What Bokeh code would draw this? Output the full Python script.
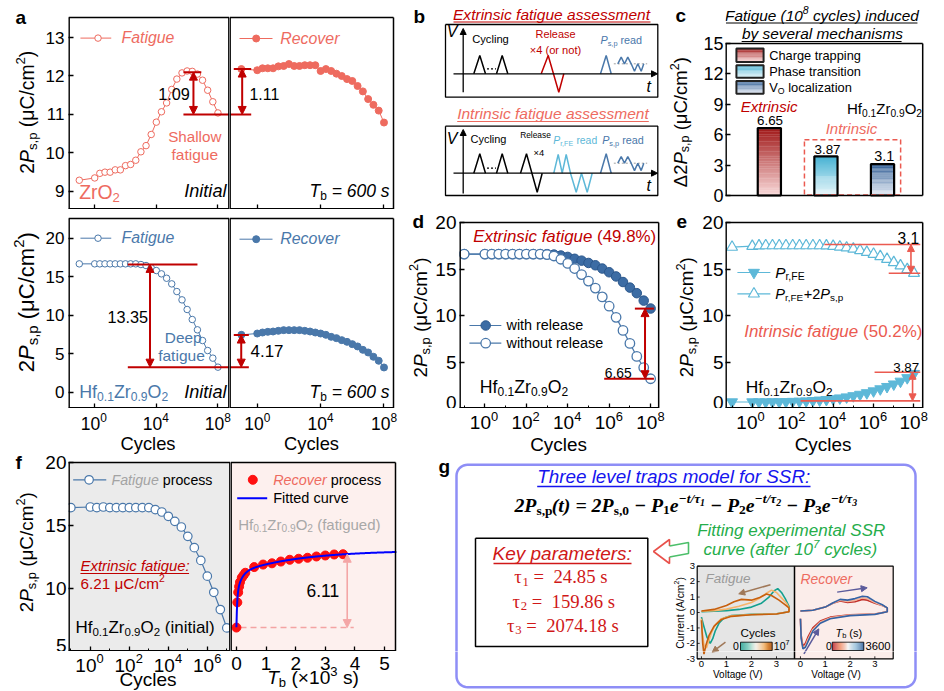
import math
import numpy as np
from bokeh.plotting import figure
from bokeh.layouts import row, column
from bokeh.models import Range1d, Label, Arrow, NormalHead, FixedTicker, CustomJSTickFormatter
from bokeh.embed import file_html
from bokeh.resources import INLINE

# ============================ DATA ============================
cycle_exponent = [-1, 0, 0.333, 0.667, 1, 1.333, 1.667, 2, 2.333, 2.667, 3, 3.333, 3.667,
                  4, 4.333, 4.667, 5, 5.333, 5.667, 6, 6.333, 6.667, 7, 7.333, 7.667, 8]
cycles = [10 ** e for e in cycle_exponent]
zro2_fatigue = [9.29, 9.35, 9.47, 9.50, 9.50, 9.56, 9.56, 9.67, 9.70, 9.81, 10.03, 10.19, 10.48,
                10.80, 11.07, 11.30, 11.65, 11.92, 12.08, 12.13, 12.12, 12.05, 11.89, 11.63, 11.33, 11.04]
zro2_recover = [12.18, 12.15, 12.20, 12.20, 12.20, 12.25, 12.26, 12.31, 12.26, 12.26, 12.28, 12.28, 12.28,
                12.13, 12.18, 12.13, 12.06, 12.00, 11.92, 11.87, 11.74, 11.60, 11.40, 11.25, 11.10, 10.79]
hzo_fatigue = [16.67, 16.67, 16.67, 16.67, 16.67, 16.67, 16.67, 16.67, 16.67, 16.67, 16.58, 16.45, 16.15,
               15.80, 15.37, 14.80, 14.07, 13.07, 11.99, 10.74, 9.44, 8.10, 6.71, 5.41, 4.42, 3.25]
hzo_recover = [7.45, 7.62, 7.75, 7.84, 7.88, 7.97, 8.06, 8.06, 8.06, 8.06, 7.97, 7.88, 7.75,
               7.62, 7.45, 7.19, 7.02, 6.76, 6.54, 6.24, 5.94, 5.50, 5.16, 4.60, 4.08, 3.21]
d_with_release = [16.6, 16.6, 16.6, 16.6, 16.6, 16.6, 16.6, 16.6, 16.6, 16.6, 16.6, 16.55, 16.45,
                  16.3, 16.1, 15.9, 15.65, 15.4, 15.05, 14.65, 14.2, 13.6, 13.0, 12.4, 11.6, 10.75]
d_without_release = [16.6, 16.6, 16.6, 16.6, 16.6, 16.6, 16.6, 16.6, 16.6, 16.6, 16.55, 16.4, 16.05,
                     15.6, 15.05, 14.4, 13.7, 12.95, 12.0, 11.0, 9.8, 8.4, 7.0, 5.6, 4.4, 3.2]
e_pr_fe = [0.7, 0.7, 0.7, 0.7, 0.71, 0.72, 0.73, 0.75, 0.77, 0.8, 0.84, 0.89, 0.95,
           1.03, 1.12, 1.23, 1.36, 1.51, 1.68, 1.88, 2.1, 2.35, 2.62, 2.92, 3.3, 3.75]
e_pr_fe_2ps = [17.36, 17.45, 17.5, 17.52, 17.52, 17.52, 17.52, 17.52, 17.52, 17.52, 17.52, 17.52, 17.5,
               17.45, 17.38, 17.28, 17.15, 17.0, 16.8, 16.6, 16.35, 16.05, 15.7, 15.35, 14.95, 14.55]
f_exponent = [-1, 0, 0.333, 0.667, 1, 1.333, 1.667, 2, 2.333, 2.667, 3, 3.333, 3.667,
              4, 4.333, 4.667, 5, 5.333, 5.667, 6, 6.333, 6.667, 7]
f_cycles = [10 ** e for e in f_exponent]
f_fatigue = [16.42, 16.47, 16.42, 16.47, 16.42, 16.42, 16.42, 16.42, 16.42, 16.42, 16.42, 16.26,
             16.07, 15.73, 15.33, 14.88, 14.14, 13.24, 12.23, 10.98, 9.70, 8.33, 6.87]
f_tb_ks = [0, 0.03, 0.06, 0.09, 0.12, 0.18, 0.24, 0.3, 0.6, 0.9, 1.2, 1.5, 1.8, 2.1, 2.4, 2.7, 3.0, 3.3, 3.6]
f_recover = [6.9, 8.9, 9.7, 10.15, 10.5, 10.85, 11.05, 11.25, 11.7, 11.9, 12.0, 12.14, 12.28,
             12.36, 12.44, 12.54, 12.62, 12.7, 12.72]
tau_s = [24.85, 159.86, 2074.18]
fit_2ps0 = 13.03
fit_p = [2.53, 1.78, 1.8]
c_mechanisms = ["Charge trapping", "Phase transition", "VO localization"]
c_delta = [6.65, 3.87, 3.1]
fat_loops_V = [
    [0.0, 0.5, 1.0, 1.5, 2.0, 2.4, 2.7, 2.9, 3.05, 3.2, 3.35, 3.5, 3.5, 3.0, 2.0, 1.2, 0.9, 0.7, 0.55, 0.45, 0.35, 0.22, 0.08, 0.0],
    [0.0, 0.5, 1.0, 1.5, 2.0, 2.3, 2.6, 2.8, 3.0, 3.2, 3.4, 3.5, 3.5, 3.0, 2.0, 1.2, 0.8, 0.55, 0.4, 0.3, 0.2, 0.1, 0.03, 0.0],
    [0.0, 0.5, 1.0, 1.3, 1.6, 2.0, 2.3, 2.6, 2.8, 3.1, 3.35, 3.5, 3.5, 3.0, 2.0, 1.2, 0.8, 0.5, 0.3, 0.18, 0.1, 0.05, 0.0],
]
fat_loops_I = [
    [0.05, 0.08, 0.12, 0.2, 0.35, 0.6, 1.0, 1.4, 1.55, 1.3, 0.9, 0.4, 0.05, -0.08, -0.12, -0.2, -0.35, -0.7, -1.2, -1.7, -2.0, -1.6, -0.8, -0.3],
    [0.08, 0.12, 0.22, 0.4, 0.65, 0.9, 1.25, 1.45, 1.3, 0.95, 0.6, 0.3, 0.05, -0.08, -0.13, -0.22, -0.4, -0.8, -1.3, -1.8, -2.3, -2.1, -1.2, -0.4],
    [0.1, 0.2, 0.45, 0.7, 0.85, 0.8, 0.95, 1.2, 1.1, 0.8, 0.5, 0.3, 0.05, -0.1, -0.15, -0.25, -0.45, -0.9, -1.5, -2.1, -2.7, -2.0, -0.5],
]
rec_loop_V = [0.0, 0.5, 1.0, 1.3, 1.6, 1.9, 2.2, 2.5, 2.7, 3.0, 3.3, 3.5, 3.5, 3.0, 2.0, 1.2, 0.8, 0.5, 0.3, 0.2, 0.1, 0.03, 0.0]
rec_loops_I = [
    [0.1, 0.15, 0.35, 0.6, 0.75, 0.65, 0.7, 0.85, 0.8, 0.6, 0.45, 0.3, 0.05, -0.1, -0.15, -0.3, -0.55, -1.0, -1.6, -2.0, -2.2, -1.5, -0.4],
    [0.1, 0.15, 0.35, 0.6, 0.8, 0.72, 0.8, 0.95, 0.9, 0.65, 0.45, 0.3, 0.05, -0.1, -0.17, -0.35, -0.62, -1.1, -1.75, -2.15, -2.3, -1.6, -0.4],
    [0.1, 0.15, 0.35, 0.62, 0.85, 0.8, 0.9, 1.05, 1.02, 0.72, 0.5, 0.3, 0.05, -0.12, -0.2, -0.4, -0.7, -1.2, -1.9, -2.25, -2.35, -1.7, -0.4],
]

# ============================ STYLE / HELPERS ============================
SANS = "Liberation Sans"
SERIF = "Liberation Serif"
SALMON = "#EE6B5F"
HZO = "#4A78AA"
DRED = "#C00000"
LBLUE = "#5DB8D8"
ESAL = "#EB5A50"
PI2 = math.pi / 2
NBSP = "\u00a0"

AR_W = {' ': 278, '!': 278, '%': 889, '(': 333, ')': 333, '+': 584, ',': 278, '-': 333, '.': 278, '/': 278,
        ':': 278, '=': 584, '_': 556, 'A': 667, 'B': 667, 'C': 722, 'D': 722, 'E': 667, 'F': 611, 'G': 778,
        'H': 722, 'I': 278, 'J': 500, 'K': 667, 'L': 556, 'M': 833, 'N': 722, 'O': 778, 'P': 667, 'Q': 778,
        'R': 722, 'S': 667, 'T': 611, 'U': 722, 'V': 667, 'W': 944, 'X': 667, 'Y': 667, 'Z': 611,
        'a': 556, 'b': 556, 'c': 500, 'd': 556, 'e': 556, 'f': 278, 'g': 556, 'h': 556, 'i': 222, 'j': 222,
        'k': 500, 'l': 222, 'm': 833, 'n': 556, 'o': 556, 'p': 556, 'q': 556, 'r': 333, 's': 500, 't': 278,
        'u': 556, 'v': 500, 'w': 722, 'x': 500, 'y': 500, 'z': 500, 'μ': 576, '×': 584, 'Δ': 668, '−': 584,
        'τ': 440}
SE_W = {' ': 250, '(': 333, ')': 333, ',': 250, '.': 250, '/': 278, '=': 570, '−': 606, 'P': 611, 'e': 444,
        'p': 500, 's': 389, 't': 278, 'τ': 440}


def tw(s, fs, serif=False):
    tab = SE_W if serif else AR_W
    d = 500 if serif else 556
    return sum(tab.get(c, d) for c in s) * fs / 1000.0


class Spec:
    def __init__(s, fx0, fx1, fy0, fy1, x0, x1, y0, y1, xlog=False):
        s.fx0, s.fx1, s.fy0, s.fy1 = fx0, fx1, fy0, fy1
        s.x0, s.x1, s.y0, s.y1, s.xlog = x0, x1, y0, y1, xlog

    def px_x(s, v):
        t = math.log10(v) if s.xlog else v
        return s.fx0 + (t - s.x0) / (s.x1 - s.x0) * (s.fx1 - s.fx0)

    def dx(s, X):
        t = s.x0 + (X - s.fx0) / (s.fx1 - s.fx0) * (s.x1 - s.x0)
        return 10 ** t if s.xlog else t

    def dy(s, Y):
        return s.y0 + (s.fy1 - Y) / (s.fy1 - s.fy0) * (s.y1 - s.y0)


def rich(p, sp, X, Y, parts, size=15.0, color="black", align="center", angle=0.0,
         font=SANS, serif=False, style="normal", width=None):
    """Text made of pieces (normal / italic / bold / sub / sup); X, Y = page px of the centre line."""
    norm = []
    for part in parts:
        if isinstance(part, str):
            part = (part, "")
        norm.append((part[0], part[1] if len(part) > 1 else "", part[2] if len(part) > 2 else color))

    def lay(sz):
        out, adv = [], 0.0
        for txt, mods, col in norm:
            if "^" in mods and "_" in mods:
                fs, sh = 0.5 * sz, 0.12 * sz
            elif "^" in mods:
                fs, sh = 0.68 * sz, 0.33 * sz
            elif "_" in mods:
                fs, sh = 0.68 * sz, -0.27 * sz
            else:
                fs, sh = sz, 0.0
            if any(m in mods for m in "ibn"):
                st = " ".join((["bold"] if "b" in mods else []) + (["italic"] if "i" in mods else [])) or "normal"
            else:
                st = style
            out.append((txt, fs, sh, st, col, adv))
            adv += tw(txt, fs, serif)
        return out, adv

    pieces, W = lay(size)
    if width:
        size = size * width / W
        pieces, W = lay(size)
    start = {"left": 0.0, "center": -W / 2.0, "right": -W}[align]
    ca, sa = math.cos(angle), math.sin(angle)
    sx0, sy0 = X - sp.fx0, sp.fy1 - Y
    for txt, fs, sh, st, col, a in pieces:
        al = start + a
        up = sh + 0.02 * size
        p.add_layout(Label(x=sx0 + al * ca - up * sa, y=sy0 + al * sa + up * ca,
                           x_units="screen", y_units="screen", text=txt.replace(" ", NBSP), angle=angle,
                           text_align="left", text_baseline="alphabetic", text_font=font,
                           text_font_size="%.2fpx" % fs, text_font_style=st, text_color=col))


def make_panel(box, vis, xv, yv, xlog=False, xaxis=True, yaxis=True):
    gx0, gx1, gy0, gy1 = box
    vx0, vx1, vy0, vy1 = vis
    fx0 = vx0 if yaxis else gx0
    fy1 = vy1 if xaxis else gy1

    def xat(X):
        return xv[0] + (X - vx0) / (vx1 - vx0) * (xv[1] - xv[0])

    def yat(Y):
        return yv[0] + (vy1 - Y) / (vy1 - vy0) * (yv[1] - yv[0])

    sp = Spec(fx0, gx1, gy0, fy1, xat(fx0), xat(gx1), yat(fy1), yat(gy0), xlog)
    xr = Range1d(10 ** sp.x0, 10 ** sp.x1) if xlog else Range1d(sp.x0, sp.x1)
    p = figure(width=gx1 - gx0, height=gy1 - gy0, x_range=xr, y_range=Range1d(sp.y0, sp.y1),
               x_axis_type="log" if xlog else "linear",
               x_axis_location="below" if xaxis else None,
               y_axis_location="left" if yaxis else None,
               toolbar_location=None, output_backend="svg",
               min_border_left=fx0 - gx0, min_border_right=0, min_border_top=0, min_border_bottom=gy1 - fy1,
               outline_line_color=None, background_fill_color="white", border_fill_color="white")
    p.grid.visible = False
    vb = ((10 ** xv[0], 10 ** xv[1]) if xlog else (xv[0], xv[1])) + (yv[0], yv[1])
    return p, sp, vb


def canvas(box):
    gx0, gx1, gy0, gy1 = box
    p = figure(width=gx1 - gx0, height=gy1 - gy0, x_range=Range1d(gx0, gx1), y_range=Range1d(gy1, gy0),
               x_axis_location=None, y_axis_location=None, toolbar_location=None, output_backend="svg",
               min_border_left=0, min_border_right=0, min_border_top=0, min_border_bottom=0,
               outline_line_color=None, background_fill_color="white", border_fill_color="white")
    p.grid.visible = False
    return p, Spec(gx0, gx1, gy0, gy1, gx0, gx1, gy1, gy0)


def vbg(p, vb, color):
    xa, xb, ya, yb = vb
    p.quad(left=xa, right=xb, bottom=ya, top=yb, fill_color=color, line_color=None)


def vbox(p, sp, vis, vb):
    xa, xb, ya, yb = vb
    vx0, vx1, vy0, vy1 = vis
    edges = [([xa, xa], [ya, yb], vx0 == sp.fx0), ([xb, xb], [ya, yb], vx1 == sp.fx1),
             ([xa, xb], [ya, ya], vy1 == sp.fy1), ([xa, xb], [yb, yb], vy0 == sp.fy0)]
    for xs, ys, on_edge in edges:
        p.line(xs, ys, color="black", line_width=2.8 if on_edge else 1.5)


def axis_common(ax):
    ax.axis_line_color = None
    ax.major_tick_in = 5
    ax.major_tick_out = 0
    ax.minor_tick_in = 3
    ax.minor_tick_out = 0
    ax.major_tick_line_width = 1.3
    ax.minor_tick_line_width = 1.0
    ax.major_tick_line_color = "black"
    ax.minor_tick_line_color = "black"


def yaxis_style(p, size, ticks, standoff):
    ax = p.yaxis[0]
    axis_common(ax)
    ax.ticker = FixedTicker(ticks=ticks)
    ax.major_label_text_font = SANS
    ax.major_label_text_font_size = "%dpx" % size
    ax.major_label_text_color = "black"
    ax.major_label_standoff = standoff


def xticks_only(p, ticks, minors):
    ax = p.xaxis[0]
    axis_common(ax)
    ax.ticker = FixedTicker(ticks=ticks, minor_ticks=minors)
    ax.formatter = CustomJSTickFormatter(code="return '';")
    ax.major_label_text_font_size = "0px"
    ax.major_label_standoff = 0


def log_labels(p, sp_canvas, sp_axis, exps, Y, size):
    for e in exps:
        rich(p, sp_canvas, sp_axis.px_x(10 ** e), Y, [("10", ""), (str(e), "^")], size=size)


def seg(p, sp, X0, X1, Y0, Y1, **kw):
    p.line([sp.dx(X0), sp.dx(X1)], [sp.dy(Y0), sp.dy(Y1)], **kw)


def dbl_arrow(p, x, y0, y1, color, lw=2.0, size=8):
    p.add_layout(Arrow(x_start=x, y_start=y0, x_end=x, y_end=y1, line_color=color, line_width=lw,
                       start=NormalHead(size=size, fill_color=color, line_color=color, line_width=1),
                       end=NormalHead(size=size, fill_color=color, line_color=color, line_width=1)))


def hex2rgb(h):
    h = h.lstrip("#")
    return tuple(int(h[i:i + 2], 16) for i in (0, 2, 4))


def mix(c1, c2, t):
    a, b = hex2rgb(c1), hex2rgb(c2)
    return "#%02x%02x%02x" % tuple(int(round(a[k] + (b[k] - a[k]) * t)) for k in range(3))


def ramp(stops, t):
    n = len(stops) - 1
    k = min(int(t * n), n - 1)
    return mix(stops[k], stops[k + 1], t * n - k)


YLAB = [("2", ""), ("P", "i"), ("s,p", "_"), (" (μC/cm", ""), ("2", "^"), (")", "")]
HZO_TXT = [("Hf", ""), ("0.1", "_"), ("Zr", ""), ("0.9", "_"), ("O", ""), ("2", "_")]
SW = 42  # width of the left strips holding the y-axis titles and panel letters

# ============================ BAND 1 ============================
pS1, spS1 = canvas((0, SW, 0, 209))
rich(pS1, spS1, 15, 17, [("a", "b")], size=19, align="left")
rich(pS1, spS1, 27, 111.7, YLAB, angle=PI2, width=123)

visA1 = (67, 229, 17, 209)
pA1, spA1, vbA1 = make_panel((SW, 229, 0, 209), visA1, (-1.7, 8.75), (8.53, 13.52), xlog=True)
yaxis_style(pA1, 17, [9, 10, 11, 12, 13], 4)
xticks_only(pA1, [1, 1e4, 1e8], [])
pA1.line(cycles, zro2_fatigue, color=SALMON, line_width=1)
pA1.scatter(cycles, zro2_fatigue, marker="circle", size=6.5, fill_color="white", line_color=SALMON, line_width=1)
seg(pA1, spA1, 79, 110, 37.6, 37.6, color=SALMON, line_width=1)
pA1.scatter([spA1.dx(96.7)], [spA1.dy(37.6)], marker="circle", size=6.5, fill_color="white", line_color=SALMON)
rich(pA1, spA1, 120, 37.6, [("Fatigue", "i")], color=SALMON, align="left", width=53)
pA1.line([10 ** 5.76, 10 ** 6.92], [12.1, 12.1], color=DRED, line_width=2)
pA1.line([10 ** 5.76, 10 ** 8.75], [11.0, 11.0], color=DRED, line_width=2)
dbl_arrow(pA1, 10 ** 6.41, 12.1, 11.0, DRED)
rich(pA1, spA1, 172.5, 94.3, ["1.09"], width=31.7)
rich(pA1, spA1, 193.3, 136, ["Shallow"], color=SALMON, width=53.3)
rich(pA1, spA1, 193.3, 154, ["fatigue"], color=SALMON, width=46.7)
rich(pA1, spA1, 77.7, 191.7, [("ZrO", ""), ("2", "_")], color=SALMON, align="left", width=40.7)
rich(pA1, spA1, 225, 191, [("Initial", "i")], align="right", width=42.3)
vbox(pA1, spA1, visA1, vbA1)

visA2 = (229, 393, 17, 209)
pA2, spA2, vbA2 = make_panel((229, 405, 0, 209), visA2, (-1.75, 8.6), (8.53, 13.52), xlog=True, yaxis=False)
xticks_only(pA2, [1, 1e4, 1e8], [])
pA2.line(cycles, zro2_recover, color=SALMON, line_width=1)
pA2.scatter(cycles, zro2_recover, marker="circle", size=7, fill_color=SALMON, line_color=SALMON)
seg(pA2, spA2, 239, 272, 38, 38, color=SALMON, line_width=1)
pA2.scatter([spA2.dx(255.7)], [spA2.dy(38)], marker="circle", size=7, fill_color=SALMON, line_color=SALMON)
rich(pA2, spA2, 279.7, 38, [("Recover", "i")], color=SALMON, align="left", width=59.3)
pA2.line([10 ** -1.75, 10 ** -0.38], [11.0, 11.0], color=DRED, line_width=2)
pA2.line([10 ** -1.48, 10 ** -0.38], [12.18, 12.18], color=DRED, line_width=2)
dbl_arrow(pA2, 10 ** -0.95, 11.0, 12.18, DRED)
rich(pA2, spA2, 249, 94.3, ["1.11"], align="left", width=31)
rich(pA2, spA2, 389, 191, [("T", "i"), ("b", "_"), (" = 600 s", "i")], align="right", width=80)
vbox(pA2, spA2, visA2, vbA2)

# ---- b ----
pB, spB = canvas((405, 700, 0, 209))
b_box1 = ([445, 657.3, 657.3, 445, 445], [24, 24, 96.7, 96.7, 24])
b_box2 = ([445, 657.3, 657.3, 445, 445], [125.7, 125.7, 195, 195, 125.7])
b_cycle1_x = [473.3, 479.3, 485.0]
b_cycle2_x = [496.0, 501.7, 507.3]
b_release_x = [540.7, 547.7, 558.3, 563.3]
b_release2_x = [520.0, 526.0, 536.7, 541.7]
b_read_tri_x = [600.0, 605.7, 610.7]
b_mw_x = [617.3, 620.7, 624.0, 627.3, 630.7, 634.0, 637.3, 640.7, 643.3]
b_mw_dy = [0, -6.6, 0, -6.6, 0, 7.4, 0, 7.4, 0]
b_prfe_x = [553.3, 557.7, 561.7, 565.7, 570.0, 575.7, 581.0, 586.7, 591.7]
b_prfe_dy = [0, -18.7, 0, -18.7, 0, 19, 0, 19, 0]
for bx, by in (b_box1, b_box2):
    pB.line(bx, by, color="black", line_width=1.3)
for base, top, bottom, pk in ((73.3, 28.0, 91.7, 55.0), (172.7, 129.0, 193.0, 153.3)):
    pB.add_layout(Arrow(x_start=462.7, y_start=bottom, x_end=462.7, y_end=top, line_width=1.3,
                        end=NormalHead(size=6, fill_color="black", line_color="black")))
    pB.add_layout(Arrow(x_start=453, y_start=base, x_end=657, y_end=base, line_width=1.3,
                        end=NormalHead(size=6, fill_color="black", line_color="black")))
    pB.line(b_cycle1_x, [base, pk, base], color="black", line_width=1.5)
    pB.line(b_cycle2_x, [base, pk, base], color="black", line_width=1.5)
    pB.line([486.5, 495.5], [base - 5, base - 5], color="black", line_width=1.2, line_dash="2 2")
    pB.line(b_read_tri_x, [base, pk, base], color=HZO, line_width=1.5)
    mwb = base - 10
    pB.line([613.3, 646.7], [mwb, mwb], color="#888888", line_width=0.8, line_dash="2 2")
    pB.line(b_mw_x, [mwb + d for d in b_mw_dy], color=HZO, line_width=1.5)
pB.line(b_release_x, [73.3, 55, 91.7, 73.3], color=DRED, line_width=1.5)
pB.line(b_release2_x, [172.7, 153.3, 191.7, 172.7], color="black", line_width=1.5)
pB.line(b_prfe_x, [172.7 + d for d in b_prfe_dy], color=LBLUE, line_width=1.5)
rich(pB, spB, 551, 14, [("Extrinsic fatigue assessment", "i")], color=DRED, width=197)
seg(pB, spB, 453, 650, 21.5, 21.5, color=DRED, line_width=1)
rich(pB, spB, 552.5, 113.3, [("Intrinsic fatigue assessment", "i")], color=SALMON, width=191.7)
seg(pB, spB, 456.7, 648.3, 121, 121, color=SALMON, line_width=1)
for vy, ty in ((31.7, 86.7), (138.3, 185)):
    rich(pB, spB, 451.7, vy, [("V", "i")], size=16)
    rich(pB, spB, 648.3, ty, [("t", "i")], size=16)
rich(pB, spB, 490, 38.3, ["Cycling"], width=36.7)
rich(pB, spB, 555, 33.3, ["Release"], color=DRED, width=40)
rich(pB, spB, 555, 50, ["×4 (or not)"], color=DRED, width=51.7)
rich(pB, spB, 620.8, 40, [("P", "i"), ("s,p", "_"), (" read", "")], color=HZO, width=41.7)
rich(pB, spB, 488, 138.3, ["Cycling"], width=36)
rich(pB, spB, 535, 135, ["Release"], width=30.7)
rich(pB, spB, 538.3, 151.7, ["×4"], width=10.7)
rich(pB, spB, 574.7, 140, [("P", "i"), ("r,FE", "_"), (" read", "")], color=LBLUE, width=44)
rich(pB, spB, 622.5, 140, [("P", "i"), ("s,p", "_"), (" read", "")], color=HZO, width=41.7)
rich(pB, spB, 413, 16, [("b", "b")], size=19, align="left")
rich(pB, spB, 675, 15, [("c", "b")], size=19, align="left")
rich(pB, spB, 680, 121.7, [("Δ2", ""), ("P", "i"), ("s,p", "_"), (" (μC/cm", ""), ("2", "^"), (")", "")],
     angle=PI2, width=130)

# ---- c ----
visC = (723, 922, 43, 195)
pC, spC, vbC = make_panel((700, 944, 0, 209), visC, (0.225, 3.71), (0, 15), xaxis=False)
yaxis_style(pC, 18, [0, 3, 6, 9, 12, 15], 2)
C_TOP = ["#A01818", "#45B2D3", "#2D5B93"]
C_BOT = ["#F9DADA", "#E3F4F9", "#E6ECF5"]
NS = 40
for i, v in enumerate(c_delta):
    xc = i + 1
    bots = [v * k / NS for k in range(NS)]
    tops = [v * (k + 1) / NS + v * 0.004 for k in range(NS)]
    cols = [mix(C_BOT[i], C_TOP[i], (k + 0.5) / NS) for k in range(NS)]
    pC.quad(left=xc - 0.205, right=xc + 0.205, bottom=bots, top=tops, fill_color=cols, line_color=None)
    pC.quad(left=xc - 0.205, right=xc + 0.205, bottom=0, top=v, fill_color=None, line_color="black", line_width=2.2)
leg_y = [(13.18, 14.5), (11.63, 12.85), (10.05, 11.3)]
for i, (y0, y1) in enumerate(leg_y):
    bots = [y0 + (y1 - y0) * k / 16 for k in range(16)]
    tops = [y0 + (y1 - y0) * (k + 1.05) / 16 for k in range(16)]
    cols = [mix(C_BOT[i], C_TOP[i], (k + 0.5) / 16) for k in range(16)]
    pC.quad(left=0.418, right=0.898, bottom=bots, top=tops, fill_color=cols, line_color=None)
    pC.quad(left=0.418, right=0.898, bottom=y0, top=y1, fill_color=None, line_color="#222222", line_width=2)
pC.quad(left=1.62, right=3.32, bottom=0.05, top=5.5, fill_color=None, line_color=ESAL, line_width=1.5,
        line_dash="5 3")
rich(pC, spC, 766.7, 55.7, ["Charge trapping"], align="left", width=91.7)
rich(pC, spC, 766.7, 71.7, ["Phase transition"], align="left", width=91.7)
rich(pC, spC, 766.7, 87.7, [("V", ""), ("O", "_"), (" localization", "")], align="left", width=82.7)
rich(pC, spC, 766.7, 106, [("Extrinsic", "i")], color=DRED, width=56.7)
rich(pC, spC, 767.5, 120.7, ["6.65"], width=26)
rich(pC, spC, 849, 128.3, [("Intrinsic", "i")], color=SALMON, width=51.7)
rich(pC, spC, 825, 149, ["3.87"], width=26)
rich(pC, spC, 881.7, 155.7, ["3.1"], width=20)
rich(pC, spC, 882, 108.3, HZO_TXT, width=75)
rich(pC, spC, 819.5, 15, [("Fatigue (10", "i"), ("8", "i^"), (" cycles) induced", "i")], width=194)
rich(pC, spC, 820, 33, [("by several mechanisms", "i")], width=161)
seg(pC, spC, 723.5, 916.7, 22.5, 22.5, color="black", line_width=1)
seg(pC, spC, 739.3, 900.7, 41, 41, color="black", line_width=1)
vbox(pC, spC, visC, vbC)

# ============================ BAND 2 ============================
pS2, spS2 = canvas((0, SW, 209, 408))
rich(pS2, spS2, 26, 301.7, YLAB, angle=PI2, width=140)

visA3 = (67, 229, 218, 408)
pA3, spA3, vbA3 = make_panel((SW, 229, 209, 408), visA3, (-1.7, 8.75), (-2.12, 22.56), xlog=True)
yaxis_style(pA3, 17, [0, 5, 10, 15, 20], 4)
xticks_only(pA3, [1, 1e4, 1e8], [])
pA3.line(cycles, hzo_fatigue, color=HZO, line_width=1)
pA3.scatter(cycles, hzo_fatigue, marker="circle", size=6.5, fill_color="white", line_color=HZO, line_width=1)
seg(pA3, spA3, 79, 110, 237.7, 237.7, color=HZO, line_width=1)
pA3.scatter([spA3.dx(96.7)], [spA3.dy(237.7)], marker="circle", size=6.5, fill_color="white", line_color=HZO)
rich(pA3, spA3, 120, 237.7, [("Fatigue", "i")], color=HZO, align="left", width=53)
pA3.line([10 ** 2.15, 10 ** 6.67], [16.6, 16.6], color=DRED, line_width=2)
pA3.line([10 ** 2.15, 10 ** 8.75], [3.25, 3.25], color=DRED, line_width=2)
dbl_arrow(pA3, 10 ** 3.59, 16.6, 3.25, DRED)
rich(pA3, spA3, 126.3, 316.7, ["13.35"], width=40.7)
rich(pA3, spA3, 181.7, 337.7, ["Deep"], color=HZO, width=36.7)
rich(pA3, spA3, 180, 355.7, ["fatigue"], color=HZO, width=46.7)
rich(pA3, spA3, 77.7, 391.7, HZO_TXT, color=HZO, align="left", width=89)
rich(pA3, spA3, 225, 391.7, [("Initial", "i")], align="right", width=42.3)
vbox(pA3, spA3, visA3, vbA3)

visA4 = (229, 393, 218, 408)
pA4, spA4, vbA4 = make_panel((229, 432, 209, 408), visA4, (-1.75, 8.6), (-2.12, 22.56), xlog=True, yaxis=False)
xticks_only(pA4, [1, 1e4, 1e8], [])
pA4.line(cycles, hzo_recover, color=HZO, line_width=1)
pA4.scatter(cycles, hzo_recover, marker="circle", size=7, fill_color=HZO, line_color=HZO)
seg(pA4, spA4, 239, 272, 238.7, 238.7, color=HZO, line_width=1)
pA4.scatter([spA4.dx(255.7)], [spA4.dy(238.7)], marker="circle", size=7, fill_color=HZO, line_color=HZO)
rich(pA4, spA4, 279.7, 238.7, [("Recover", "i")], color=HZO, align="left", width=59.3)
pA4.line([10 ** -1.75, 10 ** -0.53], [3.25, 3.25], color=DRED, line_width=2)
pA4.line([10 ** -1.48, 10 ** -0.53], [7.42, 7.42], color=DRED, line_width=2)
dbl_arrow(pA4, 10 ** -1.01, 3.25, 7.42, DRED)
rich(pA4, spA4, 250, 350.7, ["4.17"], align="left", width=33)
rich(pA4, spA4, 389, 391.7, [("T", "i"), ("b", "_"), (" = 600 s", "i")], align="right", width=80)
rich(pA4, spA4, 412, 221.7, [("d", "b")], size=19, align="left")
rich(pA4, spA4, 420, 317, YLAB, angle=PI2, width=120)
vbox(pA4, spA4, visA4, vbA4)

# ---- d ----
visD = (458, 658, 222, 408)
pD, spD, vbD = make_panel((432, 699, 209, 408), visD, (-1.226, 8.389), (0, 20), xlog=True)
yaxis_style(pD, 19, [0, 5, 10, 15, 20], 3)
xticks_only(pD, [1e0, 1e2, 1e4, 1e6, 1e8], [1e-1, 1e1, 1e3, 1e5, 1e7])
pD.line(cycles, d_with_release, color=HZO, line_width=1.2)
pD.scatter(cycles, d_with_release, marker="circle", size=9.5, fill_color="#3C6CA4", line_color="#2B578C", line_width=1)
pD.line(cycles, d_without_release, color=HZO, line_width=1.2)
pD.scatter(cycles, d_without_release, marker="circle", size=9.5, fill_color="white", line_color=HZO, line_width=1.3)
pD.line([10 ** 7.24, 10 ** 8.16], [10.74, 10.74], color=DRED, line_width=2)
pD.line([10 ** 5.76, 10 ** 8.16], [3.2, 3.2], color=DRED, line_width=2)
dbl_arrow(pD, 10 ** 7.73, 10.74, 3.2, DRED)
seg(pD, spD, 468, 500, 325, 325, color=HZO, line_width=1.2)
pD.scatter([spD.dx(484.3)], [spD.dy(325)], marker="circle", size=9.5, fill_color="#3C6CA4", line_color="#2B578C")
seg(pD, spD, 468, 500, 342.7, 342.7, color=HZO, line_width=1.2)
pD.scatter([spD.dx(484.3)], [spD.dy(342.7)], marker="circle", size=9.5, fill_color="white", line_color=HZO, line_width=1.3)
rich(pD, spD, 505, 325, ["with release"], align="left", width=76.7)
rich(pD, spD, 505, 342.7, ["without release"], align="left", width=96.7)
rich(pD, spD, 471.7, 236.7, [("Extrinsic fatigue ", "i"), ("(49.8%)", "")], color=DRED, align="left", width=183)
rich(pD, spD, 478.3, 386.7, HZO_TXT, align="left", width=88.3)
rich(pD, spD, 603.3, 372.7, ["6.65"], align="left", width=27)
rich(pD, spD, 675, 221.7, [("e", "b")], size=19, align="left")
rich(pD, spD, 685.5, 316.7, YLAB, angle=PI2, width=120)
vbox(pD, spD, visD, vbD)

# ---- e ----
visE = (723, 922, 222, 408)
pE, spE, vbE = make_panel((699, 944, 209, 408), visE, (-1.324, 8.431), (0, 20), xlog=True)
yaxis_style(pE, 19, [0, 5, 10, 15, 20], 2)
xticks_only(pE, [1e0, 1e2, 1e4, 1e6, 1e8], [1e-1, 1e1, 1e3, 1e5, 1e7])
pE.line(cycles, e_pr_fe_2ps, color=LBLUE, line_width=1.2)
pE.scatter(cycles, e_pr_fe_2ps, marker="triangle", size=11, fill_color="white", line_color=LBLUE, line_width=1.2)
pE.line(cycles, e_pr_fe, color=LBLUE, line_width=1.2)
pE.scatter(cycles, e_pr_fe, marker="inverted_triangle", size=11, fill_color=LBLUE, line_color=LBLUE)
pE.line([10 ** 3.57, 10 ** 8.31], [17.63, 17.63], color=ESAL, line_width=1.6)
pE.line([10 ** 6.75, 10 ** 8.31], [14.54, 14.54], color=ESAL, line_width=1.6)
dbl_arrow(pE, 10 ** 7.85, 17.63, 14.54, ESAL, lw=1.6, size=7)
pE.line([10 ** 6.05, 10 ** 8.31], [3.9, 3.9], color=ESAL, line_width=1.6)
pE.line([10 ** 2.39, 10 ** 8.31], [0.82, 0.82], color=ESAL, line_width=1.6)
dbl_arrow(pE, 10 ** 7.93, 3.9, 0.82, ESAL, lw=1.6, size=7)
seg(pE, spE, 735, 768.3, 272, 272, color=LBLUE, line_width=1.2)
pE.scatter([spE.dx(751.7)], [spE.dy(272)], marker="inverted_triangle", size=11, fill_color=LBLUE, line_color=LBLUE)
seg(pE, spE, 735, 768.3, 293.3, 293.3, color=LBLUE, line_width=1.2)
pE.scatter([spE.dx(751.7)], [spE.dy(293.3)], marker="triangle", size=11, fill_color="white", line_color=LBLUE, line_width=1.2)
rich(pE, spE, 772.7, 272, [("P", "i"), ("r,FE", "_")], align="left", width=30)
rich(pE, spE, 772.7, 293.3, [("P", "i"), ("r,FE", "_"), ("+2", ""), ("P", "i"), ("s,p", "_")], align="left", width=68)
rich(pE, spE, 916.7, 237.7, ["3.1"], align="right", width=21.7)
rich(pE, spE, 916.7, 367.3, ["3.87"], align="right", width=26)
rich(pE, spE, 741.7, 331.7, [("Intrinsic fatigue ", "i"), ("(50.2%)", "")], color=ESAL, align="left", width=178.3)
rich(pE, spE, 743.3, 386.7, HZO_TXT, align="left", width=86.7)
vbox(pE, spE, visE, vbE)

# ---- band 2 tick labels strip ----
p2b, sp2b = canvas((0, 944, 408, 455))
log_labels(p2b, sp2b, spA3, [0, 4, 8], 423.5, 17.5)
log_labels(p2b, sp2b, spA4, [0, 4, 8], 423.5, 17.5)
log_labels(p2b, sp2b, spD, [0, 2, 4, 6, 8], 422.5, 19)
log_labels(p2b, sp2b, spE, [0, 2, 4, 6, 8], 422.5, 19)
rich(p2b, sp2b, 147.5, 443, ["Cycles"], width=55)
rich(p2b, sp2b, 311, 443, ["Cycles"], width=55)
rich(p2b, sp2b, 558, 444, ["Cycles"], width=56.7)
rich(p2b, sp2b, 822.5, 444, ["Cycles"], width=56.7)

# ============================ BAND 3 ============================
pS3, spS3 = canvas((0, SW, 455, 651))
rich(pS3, spS3, 15, 462, [("f", "b")], size=19, align="left")
rich(pS3, spS3, 26.7, 551.7, YLAB, angle=PI2, width=120)

visF1 = (67, 230, 462, 651)
pF1, spF1, vbF1 = make_panel((SW, 230, 455, 651), visF1, (-1.12, 7.19), (5, 20), xlog=True)
yaxis_style(pF1, 19, [5, 10, 15, 20], 2)
xticks_only(pF1, [1e0, 1e2, 1e4, 1e6], [1e-1, 1e1, 1e3, 1e5, 1e7])
vbg(pF1, vbF1, "#EBEBEB")
pF1.line([10 ** 7, 10 ** 7.19], [f_recover[0], f_recover[0]], color="#F4A3A3", line_width=1.5, line_dash="6 4")
pF1.line(f_cycles, f_fatigue, color=HZO, line_width=1.2)
pF1.scatter(f_cycles, f_fatigue, marker="circle", size=8.5, fill_color="white", line_color=HZO, line_width=1.2)
seg(pF1, spF1, 71.7, 105, 479.3, 479.3, color=HZO, line_width=1.2)
pF1.scatter([spF1.dx(87.7)], [spF1.dy(479.3)], marker="circle", size=8.5, fill_color="white", line_color=HZO, line_width=1.2)
rich(pF1, spF1, 110, 479.3, [("Fatigue", "i", "#A3A3A3"), (" process", "")], align="left", width=101)
rich(pF1, spF1, 79, 565.7, [("Extrinsic fatigue:", "i")], color=DRED, align="left", width=109.3)
seg(pF1, spF1, 79, 188.3, 573, 573, color=DRED, line_width=1.2)
rich(pF1, spF1, 79, 583.3, [("6.21 μC/cm", ""), ("2", "^")], color=DRED, align="left", width=84.3)
rich(pF1, spF1, 74, 627.7, HZO_TXT + [(" (initial)", "")], align="left", width=139.3)
vbox(pF1, spF1, visF1, vbF1)

visF2 = (230, 395, 462, 651)
pF2, spF2, vbF2 = make_panel((230, 410, 455, 651), visF2, (-0.2, 5.37), (5, 20), yaxis=False)
xticks_only(pF2, [0, 1, 2, 3, 4, 5], [])
vbg(pF2, vbF2, "#FDF0EE")
t_fit = np.linspace(0, 5400, 400)
fit_curve = fit_2ps0 - sum(pp * np.exp(-t_fit / tt) for pp, tt in zip(fit_p, tau_s))
pF2.line([-0.2, 3.96], [f_recover[0], f_recover[0]], color="#F4A3A3", line_width=1.5, line_dash="6 4")
dbl_arrow(pF2, 3.74, f_recover[-1], f_recover[0], "#F4A6A6", lw=1.6, size=8)
pF2.scatter(f_tb_ks, f_recover, marker="circle", size=9, fill_color="#FF1010", line_color="#FF1010")
pF2.line(t_fit / 1000.0, fit_curve, color="#0000FF", line_width=2)
pF2.scatter([spF2.dx(252.3)], [spF2.dy(479.3)], marker="circle", size=9, fill_color="#FF1010", line_color="#FF1010")
rich(pF2, spF2, 272.7, 479.3, [("Recover", "i", SALMON), (" process", "")], align="left", width=108)
seg(pF2, spF2, 236.7, 266.7, 497.7, 497.7, color="#0000FF", line_width=2)
rich(pF2, spF2, 272.7, 497.7, ["Fitted curve"], align="left", width=75.7)
rich(pF2, spF2, 237.7, 524, HZO_TXT + [(" (fatigued)", "")], color="#A8A8A8", align="left", width=142.3)
rich(pF2, spF2, 323, 590.7, ["6.11"], width=34)
vbox(pF2, spF2, visF2, vbF2)

# ---- g (lines drawn in the band-3 canvas and the bottom strip; each text only where it lies) ----
INS = {"F": (696.7, 794.0, -0.17, 3.72), "R": (794.0, 892.7, -0.24, 3.74)}
IY0, IY1 = 565.7, 658.3


def ins_px(which, v, i):
    x0, x1, v0, v1 = INS[which]
    return x0 + (v - v0) / (v1 - v0) * (x1 - x0), IY0 + (3.0 - i) / 6.0 * (IY1 - IY0)


def draw_g(pG, spG):
    def gt(X, Y, parts, **kw):
        if spG.fy0 <= Y < spG.fy1:
            rich(pG, spG, X, Y, parts, **kw)

    bx0, bx1, by0, by1, rr = 456, 915, 464.3, 686.7, 11
    box_x, box_y = [], []
    for cx, cy, a0 in ((bx1 - rr, by0 + rr, -90), (bx1 - rr, by1 - rr, 0), (bx0 + rr, by1 - rr, 90), (bx0 + rr, by0 + rr, 180)):
        for a in np.linspace(a0, a0 + 90, 10):
            box_x.append(cx + rr * math.cos(math.radians(a)))
            box_y.append(cy + rr * math.sin(math.radians(a)))
    box_x.append(box_x[0])
    box_y.append(box_y[0])
    pG.line(box_x, box_y, color="#8E8EF6", line_width=2.5)
    gt(673.3, 476.7, [("Three level traps model for SSR:", "i")], color="#1515EE", width=273)
    seg(pG, spG, 536.7, 810, 486, 486, color="#1515EE", line_width=1.3)
    eq = [("2P", ""), ("s,p", "b_"), ("(t) = 2P", ""), ("s,0", "b_"),
          (" − P", ""), ("1", "b_"), ("e", ""), ("−t/τ", "^"), ("1", "^_"),
          (" − P", ""), ("2", "b_"), ("e", ""), ("−t/τ", "^"), ("2", "^_"),
          (" − P", ""), ("3", "b_"), ("e", ""), ("−t/τ", "^"), ("3", "^_")]
    gt(685.3, 505, eq, font=SERIF, serif=True, style="bold italic", width=342.7)
    pG.line([475, 647.3, 647.3, 475, 475], [537.7, 537.7, 646, 646, 537.7], color="black", line_width=1.5)
    KRED = "#D01818"
    gt(561.7, 553.3, [("Key parameters:", "i")], color=KRED, width=139.3)
    seg(pG, spG, 493, 631, 563, 563, color=KRED, line_width=1.3)
    for (cx, cy), k, tv in zip(((560.5, 576.7), (563.3, 601), (562.5, 625)), ("1", "2", "3"), tau_s):
        gt(cx, cy, [("τ", ""), (k, "_"), (" =  %.2f s" % tv, "")], size=18.7, color=KRED, font=SERIF, serif=True)
    GREEN = "#25AD4A"
    gt(790.8, 530, [("Fitting experimental SSR", "i")], color=GREEN, width=188.3)
    gt(789.8, 549.3, [("curve (after 10", "i"), ("7", "i^"), (" cycles)", "i")], color=GREEN, width=173.7)
    pG.line([669, 669, 653, 669, 669], [545.5, 539, 551, 563, 556.5], color="#E8504A", line_width=1.6)
    pG.line([669, 688, 688, 669], [545.5, 542, 553, 556.5], color="#4CBF6A", line_width=1.6)
    gt(438, 466, [("g", "b")], size=19, align="left")
    # inset
    pG.quad(left=696.7, right=794, top=IY0, bottom=IY1, fill_color="#E5E5E5", line_color=None)
    pG.quad(left=794, right=892.7, top=IY0, bottom=IY1, fill_color="#FBEDEA", line_color=None)
    subs = {}
    for w in ("F", "R"):
        x0, x1, v0, v1 = INS[w]
        try:
            subs[w] = pG.subplot(x_source=Range1d(v0, v1), y_source=Range1d(-3, 3),
                                 x_target=Range1d(x0, x1), y_target=Range1d(IY1, IY0))
        except Exception:
            subs[w] = None

    def ins_line(w, V, I, color, lw):
        if subs[w] is not None:
            subs[w].line(V, I, color=color, line_width=lw)
        else:
            pts = [ins_px(w, v, i) for v, i in zip(V, I)]
            pG.line([q[0] for q in pts], [q[1] for q in pts], color=color, line_width=lw)

    for V, I, col in zip(fat_loops_V, fat_loops_I, ["#13A08F", "#F6B46B", "#C75F0D"]):
        ins_line("F", V, I, col, 1.6)
    for I, col in zip(rec_loops_I, ["#C2302A", "#F2B49A", "#3463A5"]):
        ins_line("R", rec_loop_V, I, col, 1.6)
    pG.line([696.7, 892.7, 892.7, 696.7, 696.7], [IY0, IY0, IY1, IY1, IY0], color="black", line_width=1.2)
    pG.line([794, 794], [IY0, IY1], color="black", line_width=1.5)
    for iv in range(-3, 4):
        X, Y = ins_px("F", 0, iv)
        pG.line([696.7, 699.2], [Y, Y], color="black", line_width=0.8)
        gt(694.5, Y, [str(iv)], size=9.5, align="right")
    for w in ("F", "R"):
        for vv in range(0, 4):
            X, Y = ins_px(w, vv, -3)
            pG.line([X, X], [IY1, IY1 - 2.5], color="black", line_width=0.8)
            gt(X, 663.3, [str(vv)], size=9.5)
    gt(737.5, 674.3, ["Voltage (V)"], size=10)
    gt(835.8, 674.3, ["Voltage (V)"], size=10)
    gt(680, 612.5, [("Current (A/cm", ""), ("2", "^"), (")", "")], angle=PI2, width=71.7)
    gt(705, 578.3, [("Fatigue", "i")], color="#9A9A9A", align="left", width=45)
    gt(800, 578.3, [("Recover", "i")], color=SALMON, align="left", width=51.7)
    for (w, v0, i0, v1, i1, col) in (("F", 2.76, 1.8, 1.49, 1.21, "#A07858"), ("F", 0.96, -1.92, 0.43, -2.57, "#A07858"),
                                     ("R", 1.48, 1.32, 2.69, 1.6, "#5B5B9B"), ("R", 0.14, -2.68, 0.74, -1.06, "#5B5B9B")):
        Xa, Ya = ins_px(w, v0, i0)
        Xb, Yb = ins_px(w, v1, i1)
        pG.add_layout(Arrow(x_start=Xa, y_start=Ya, x_end=Xb, y_end=Yb, line_color=col, line_width=1.5,
                            end=NormalHead(size=6, fill_color=col, line_color=col)))
    CB_F = ["#0E9A8C", "#8ED3C7", "#F7F3EA", "#F5B46A", "#B5570B"]
    CB_R = ["#B2182B", "#EF8A62", "#F7F7F7", "#8FBEDC", "#2B5C9C"]
    for (cx0, cx1, stops) in ((740, 771.7, CB_F), (831.7, 863.3, CB_R)):
        nq = 30
        lefts = [cx0 + (cx1 - cx0) * k / nq for k in range(nq)]
        rights = [cx0 + (cx1 - cx0) * (k + 1.05) / nq for k in range(nq)]
        pG.quad(left=lefts, right=rights, top=641.7, bottom=650,
                fill_color=[ramp(stops, (k + 0.5) / nq) for k in range(nq)], line_color=None)
        pG.line([cx0, cx1, cx1, cx0, cx0], [641.7, 641.7, 650, 650, 641.7], color="black", line_width=0.8)
    gt(757.5, 632.3, ["Cycles"], width=35)
    gt(735.5, 645.8, ["0"], size=10.5)
    gt(773.3, 645.8, [("10", ""), ("7", "^")], align="left", size=10.5)
    gt(848.3, 632.3, [("T", "i"), ("b", "_"), (" (s)", "")], width=26.7)
    gt(828.3, 645.8, ["0"], size=10.5)
    gt(865, 645.8, ["3600"], align="left", width=25)


pG, spG = canvas((410, 944, 455, 651))
draw_g(pG, spG)

# ---- bottom strip: f tick labels / axis titles + lower part of g ----
p3b, sp3b = canvas((0, 944, 651, 691))
log_labels(p3b, sp3b, spF1, [0, 2, 4, 6], 665, 19)
for v in range(0, 6):
    rich(p3b, sp3b, spF2.px_x(v), 663, [str(v)], size=19)
rich(p3b, sp3b, 147.5, 679, ["Cycles"], width=57)
rich(p3b, sp3b, 312.5, 677.5, [("T", "i"), ("b", "_"), (" (×10", ""), ("3", "^"), (" s)", "")], width=91.7)
draw_g(p3b, sp3b)

# ============================ LAYOUT ============================
layout = column(row(pS1, pA1, pA2, pB, pC),
                row(pS2, pA3, pA4, pD, pE),
                p2b,
                row(pS3, pF1, pF2, pG),
                p3b)
open("out.html", "w", encoding="utf-8").write(file_html(layout, INLINE))
